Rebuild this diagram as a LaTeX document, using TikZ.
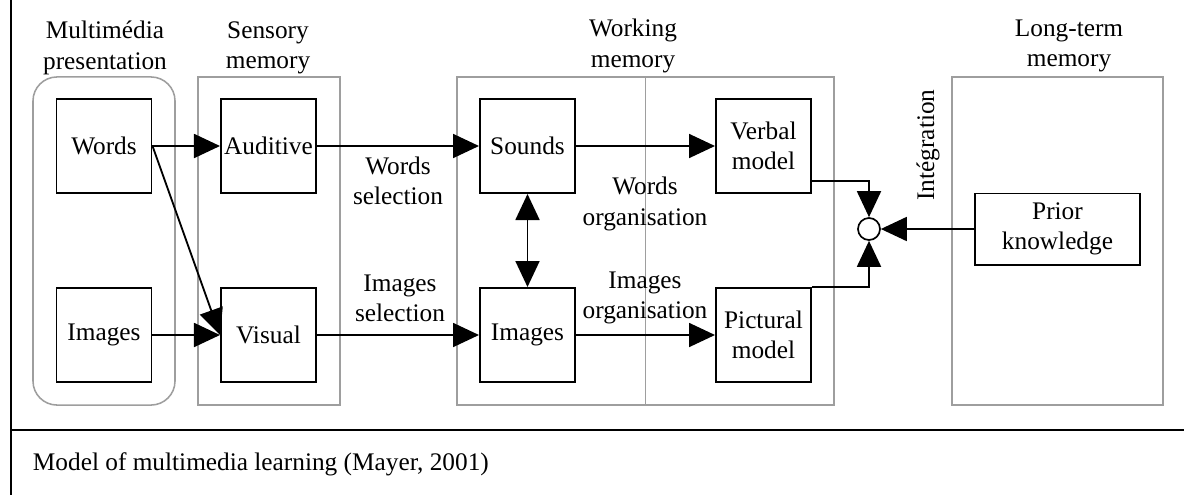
\documentclass[tikz,border=0pt]{standalone}
\usepackage{fontspec}
\setmainfont{Liberation Serif}
\usetikzlibrary{arrows.meta}
\tikzset{every node/.style={font=\fontsize{18}{21.5}\selectfont},
	>={Triangle[length=6.5mm,width=6mm]},
	store/.style={draw=black!38,line width=1.1pt,minimum height=8.2cm},
	unit/.style={draw,line width=1.4pt,minimum width=2.375cm,minimum height=2.35cm,align=center,inner sep=1pt},
	flow/.style={->,line width=1.3pt},
	frame/.style={line width=1.3pt}}
\newcommand{\memstore}[4][]{\node[store,minimum width=#4,#1] at (#2) (#3) {}}
\newcommand{\memunit}[4][]{\node[unit,#1] at (#2) (#3) {#4}}

\begin{document}
\begin{tikzpicture}[x=0.025cm,y=-0.025cm]
			\useasboundingbox (0,0) rectangle (1184,495);
			% stores
			\memstore[rounded corners=0.6cm]{104,241}{media}{3.55cm};
			\memstore{269,241}{sensory}{3.55cm};
			\memstore{645.5,241}{working}{9.425cm};
			\memstore{1057.5,241}{longterm}{5.275cm};
			\draw[store] (working.north) -- (working.south);
			\node[align=center] (mediatitle) at (105,48) {Multimédia\\presentation};
			\node[align=center] (sensorytitle) at (268,48) {Sensory\\memory};
			\node[align=center] (workingtitle) at (633,46) {Working\\memory};
			\node[align=center] (longtermtitle) at (1069,46) {Long-term\\memory};
			% units
			\memunit{104,146}{words}{Words};
			\memunit{104,335}{images}{Images};
			\memunit{268.5,146}{auditive}{Auditive};
			\memunit{268.5,335}{visual}{Visual};
			\memunit{527.5,146}{sounds}{Sounds};
			\memunit{527.5,335}{wimages}{Images};
			\memunit{763.5,146}{verbal}{Verbal\\model};
			\memunit{763.5,335}{pictural}{Pictural\\model};
			\memunit[minimum width=4.125cm,minimum height=1.775cm]{1057.5,229}{prior}{Prior\\knowledge};
			\node[circle,draw,line width=1.2pt,minimum size=0.55cm,inner sep=0pt] (join) at (869,229) {};
			% labels
			\node[align=center] (wsel) at (398,181) {Words\\selection};
			\node[align=center] (isel) at (400,298) {Images\\selection};
			\node[align=center] (worg) at (645,204) {Words\\organisation};
			\node[align=center] (iorg) at (645,298) {Images\\organisation};
			\node[rotate=90] (integ) at (928,145) {Intégration};
			\draw[flow]
			(words) -- (auditive);
			\draw[flow] (words.east) -- (visual.west);
			\draw[flow] (images) -- (visual);
			\draw[flow] (auditive) -- (sounds);
			\draw[flow] (visual) -- (wimages);
			\draw[flow] (sounds) -- (verbal);
			\draw[flow] (wimages) -- (pictural);
			\draw[flow,<->] (sounds) -- (wimages);
			\draw[flow] (verbal.-36) -| (join);
			\draw[flow] (pictural.north east) -| (join);
			\draw[flow] (prior) -- (join);
			% frame and caption
			\draw[frame] (11,0) -- (11,495);
			\draw[frame] (11,430) -- (1184,430);
			\node[anchor=west] (caption) at (28,464) {Model of multimedia learning (Mayer, 2001)};
		\end{tikzpicture}
\end{document}
